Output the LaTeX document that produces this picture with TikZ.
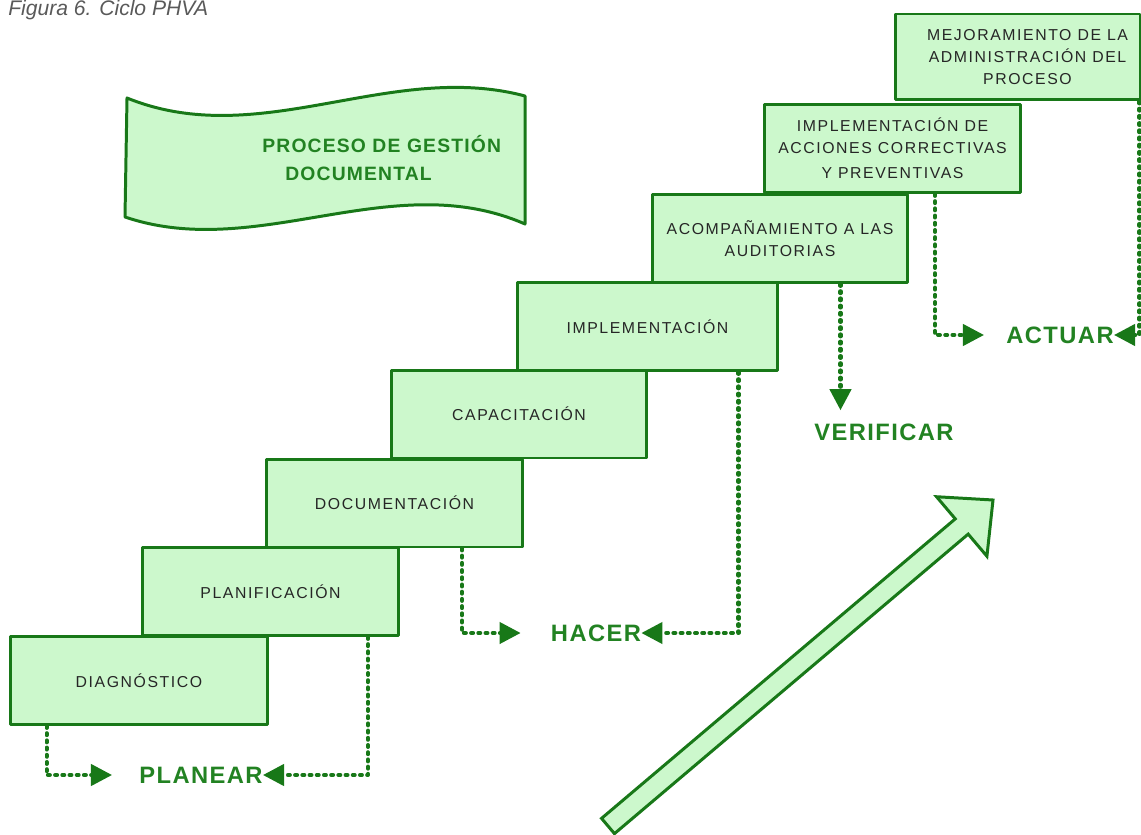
\documentclass[tikz,border=0pt]{standalone}
\usepackage{fontspec}
\setmainfont{Liberation Sans}
\newfontfamily\stepfont[LetterSpace=10]{Liberation Sans}
\newfontfamily\phasefont[LetterSpace=6]{Liberation Sans}
\usetikzlibrary{arrows.meta,calc}

\definecolor{pgreen}{RGB}{24,120,24}
\definecolor{pfill}{RGB}{204,248,204}
\definecolor{ptext}{RGB}{34,130,34}

\begin{document}
\begin{tikzpicture}[x=0.02cm,y=-0.02cm,line join=round,
	stage/.style={draw=pgreen,fill=pfill,line width=1.7pt,minimum width=5.12cm,minimum height=1.76cm,inner sep=0pt,align=center,text=black!85,font=\stepfont\fontsize{9}{12.5}\selectfont},
	phase/.style={inner sep=0pt,text=ptext,font=\phasefont\bfseries\fontsize{13.5}{16}\selectfont},
	flow/.style={pgreen,line width=2.3pt,dash pattern=on 1.1pt off 3pt,line cap=round,-{Triangle[length=12pt,width=12pt]}}]
	\useasboundingbox (0,0) rectangle (1141,834);

	\node[anchor=base west,inner sep=0pt,text=black!65,font=\itshape\fontsize{12}{14}\selectfont] (caption) at (8,16) {Figura 6. Ciclo PHVA};

	\filldraw[draw=pgreen,fill=pfill,line width=1.7pt] (127,98) .. controls (260,152) and (390,60) .. (525,96) -- (525,224) .. controls (392,166) and (258,262) .. (125,217) -- cycle;
	\node[anchor=west,align=left,inner sep=0pt,text=ptext,font=\phasefont\bfseries\fontsize{11}{15.5}\selectfont] (title) at (262,158) {PROCESO DE GESTIÓN\\\hspace*{0.46cm}DOCUMENTAL};

	\node[stage,minimum width=5.16cm] (diag) at (139,680.5) {DIAGNÓSTICO};
	\node[stage] (plan) at (270.5,591.5) {PLANIFICACIÓN};
	\node[stage] (doc) at (394.5,503) {DOCUMENTACIÓN};
	\node[stage] (cap) at (519,414) {CAPACITACIÓN};
	\node[stage,minimum width=5.22cm] (impl) at (647.5,326.5) {IMPLEMENTACIÓN};
	\node[stage] (acomp) at (780,238.5) {ACOMPAÑAMIENTO A LAS\\AUDITORIAS};
	\node[stage] (acc) at (892.5,148.5) {IMPLEMENTACIÓN DE\\ACCIONES CORRECTIVAS\\[2pt]Y PREVENTIVAS};
	\node[stage,minimum width=4.9cm,minimum height=1.72cm] (mejor) at (1017.5,57) {\hspace*{0.4cm}MEJORAMIENTO DE LA\\\hspace*{0.4cm}ADMINISTRACIÓN DEL\\\hspace*{0.4cm}PROCESO};

	\node[phase] (planear) at (201,775) {PLANEAR};
	\node[phase] (hacer) at (596,633) {HACER};
	\node[phase] (verif) at (884,432) {VERIFICAR};
	\node[phase] (actuar) at (1060,335) {ACTUAR};

	\draw[flow] ([xshift=0.76cm]diag.south west) |- ([xshift=-0.54cm]planear.west);
	\draw[flow] ([xshift=-0.64cm]plan.south east) |- (planear.east);
	\draw[flow] ([xshift=-1.24cm]doc.south east) |- ([xshift=-0.6cm]hacer.west);
	\draw[flow] ([xshift=-0.82cm]impl.south east) |- (hacer.east);
	\coordinate (vtop) at ([xshift=-1.38cm]acomp.south east);
	\draw[flow,shorten >=0.26cm] (vtop) -- (vtop |- verif.north);
	\draw[flow] ([xshift=-1.74cm]acc.south east) |- ([xshift=-0.44cm]actuar.west);
	\draw[flow] ([xshift=-0.04cm]mejor.south east) |- (actuar.east);

	\coordinate (tail) at (608,826);
	\coordinate (tip) at (993,500);
	\coordinate (neck) at ($(tip)!0.82cm!(tail)$);
	\filldraw[draw=pgreen,fill=pfill,line width=1.7pt,line join=miter] ($(tail)!0.2cm!90:(tip)$) -- ($(neck)!0.2cm!90:(tip)$) -- ($(neck)!0.78cm!90:(tip)$) -- (tip) -- ($(neck)!0.78cm!-90:(tip)$) -- ($(neck)!0.2cm!-90:(tip)$) -- ($(tail)!0.2cm!-90:(tip)$) -- cycle;
\end{tikzpicture}
\end{document}
